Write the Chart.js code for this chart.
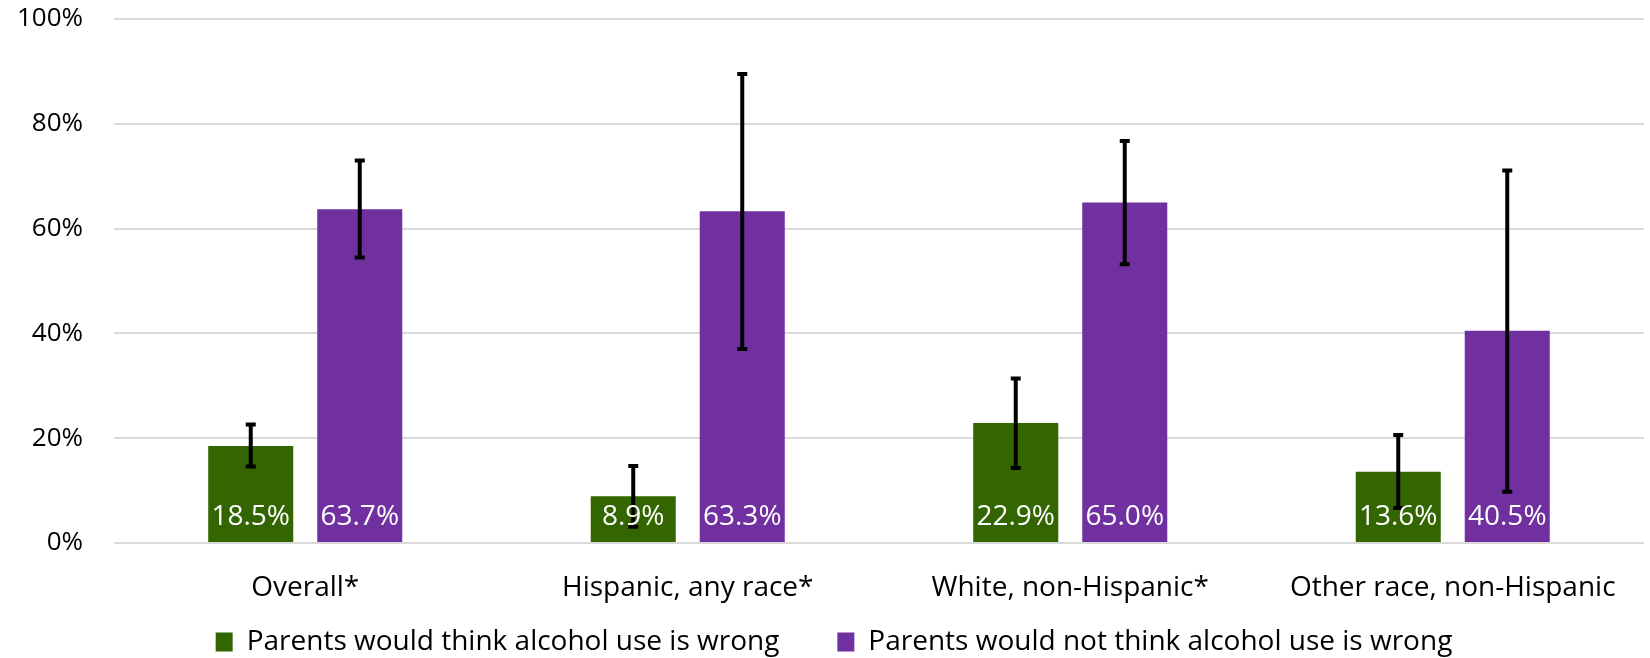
<!DOCTYPE html>
<html>
<head>
<meta charset="utf-8">
<script src="https://cdn.jsdelivr.net/npm/chart.js@4.4.1/dist/chart.umd.min.js"></script>
<style>
  html, body { margin: 0; padding: 0; background: #ffffff; }
  #wrap { width: 1650px; height: 658px; position: relative; }
</style>
</head>
<body>
<div id="wrap"><canvas id="c" width="1650" height="658"></canvas></div>
<script>
const categories = ["Overall*", "Hispanic, any race*", "White, non-Hispanic*", "Other race, non-Hispanic"];
const seriesNames = ["Parents would think alcohol use is wrong", "Parents would not think alcohol use is wrong"];
const wrongValues = [18.5, 8.9, 22.9, 13.6];
const wrongLow = [14.6, 3.1, 14.3, 6.7];
const wrongHigh = [22.6, 14.7, 31.4, 20.6];
const notWrongValues = [63.7, 63.3, 65.0, 40.5];
const notWrongLow = [54.5, 37.0, 53.2, 9.8];
const notWrongHigh = [73.0, 89.5, 76.7, 71.1];
const yTicks = [0, 20, 40, 60, 80, 100];

const FONT = "'Open Sans', 'Noto Sans', sans-serif";
const GREEN = "#336600";
const PURPLE = "#7030A0";

const errorBarPlugin = {
  id: "errorBars",
  afterDatasetsDraw(chart) {
    const ctx = chart.ctx;
    const y = chart.scales.y;
    chart.data.datasets.forEach((ds, di) => {
      const meta = chart.getDatasetMeta(di);
      meta.data.forEach((bar, i) => {
        const x = bar.x;
        const yl = y.getPixelForValue(ds.errLow[i]);
        const yh = y.getPixelForValue(ds.errHigh[i]);
        ctx.save();
        ctx.strokeStyle = "#000000";
        ctx.lineWidth = 4;
        ctx.beginPath();
        ctx.moveTo(x, yl);
        ctx.lineTo(x, yh);
        ctx.stroke();
        ctx.beginPath();
        ctx.moveTo(x - 5, yl); ctx.lineTo(x + 5, yl);
        ctx.moveTo(x - 5, yh); ctx.lineTo(x + 5, yh);
        ctx.stroke();
        ctx.restore();
      });
    });
  }
};

const valueLabelPlugin = {
  id: "valueLabels",
  afterDatasetsDraw(chart) {
    const ctx = chart.ctx;
    chart.data.datasets.forEach((ds, di) => {
      const meta = chart.getDatasetMeta(di);
      meta.data.forEach((bar, i) => {
        ctx.save();
        ctx.fillStyle = "#ffffff";
        ctx.font = "28px " + FONT;
        ctx.textAlign = "center";
        ctx.textBaseline = "middle";
        ctx.fillText(ds.data[i].toFixed(1) + "%", bar.x, bar.base - 25);
        ctx.restore();
      });
    });
  }
};

// Keeps the wide horizontal gap between legend items without the matching
// vertical gap, and nudges the legend to the right like the original.
const legendPlacement = {
  id: "legendPlacement",
  afterLayout(chart) {
    const lg = chart.legend;
    if (!lg) return;
    const pad = lg.options.labels.padding;
    lg.top += -pad + 23;
    lg.bottom = chart.height;
    lg.left += 12; lg.right += 12;
  }
};

new Chart(document.getElementById("c"), {
  type: "bar",
  data: {
    labels: categories,
    datasets: [
      { label: seriesNames[0], data: wrongValues, errLow: wrongLow, errHigh: wrongHigh,
        backgroundColor: GREEN, categoryPercentage: 0.57, barPercentage: 0.78 },
      { label: seriesNames[1], data: notWrongValues, errLow: notWrongLow, errHigh: notWrongHigh,
        backgroundColor: PURPLE, categoryPercentage: 0.57, barPercentage: 0.78 }
    ]
  },
  plugins: [errorBarPlugin, valueLabelPlugin, legendPlacement],
  options: {
    responsive: false,
    animation: false,
    devicePixelRatio: 1,
    layout: { padding: { left: 0, right: 6, top: 19, bottom: 4 } },
    plugins: {
      tooltip: { enabled: false },
      legend: {
        position: "bottom",
        maxHeight: 49,
        labels: {
          boxWidth: 17, boxHeight: 19, padding: 58,
          color: "#000000",
          font: { family: FONT, size: 28 }
        }
      }
    },
    scales: {
      x: {
        grid: { display: false, drawTicks: false },
        border: { display: false },
        afterFit(scale) { scale.height = 62; },
        ticks: { color: "#000000", font: { family: FONT, size: 28 }, padding: 28, maxRotation: 0 }
      },
      y: {
        min: 0, max: 100,
        afterBuildTicks(scale) { scale.ticks = yTicks.map(v => ({ value: v })); },
        afterFit(scale) { scale.width = 114; scale.paddingTop = 0; scale.paddingBottom = 0; },
        grid: { color: "#d9d9d9", lineWidth: 2, drawTicks: false },
        border: { display: false },
        ticks: { color: "#000000", font: { family: FONT, size: 26 }, padding: 31,
                 callback: v => v + "%" }
      }
    }
  }
});
</script>
</body>
</html>
